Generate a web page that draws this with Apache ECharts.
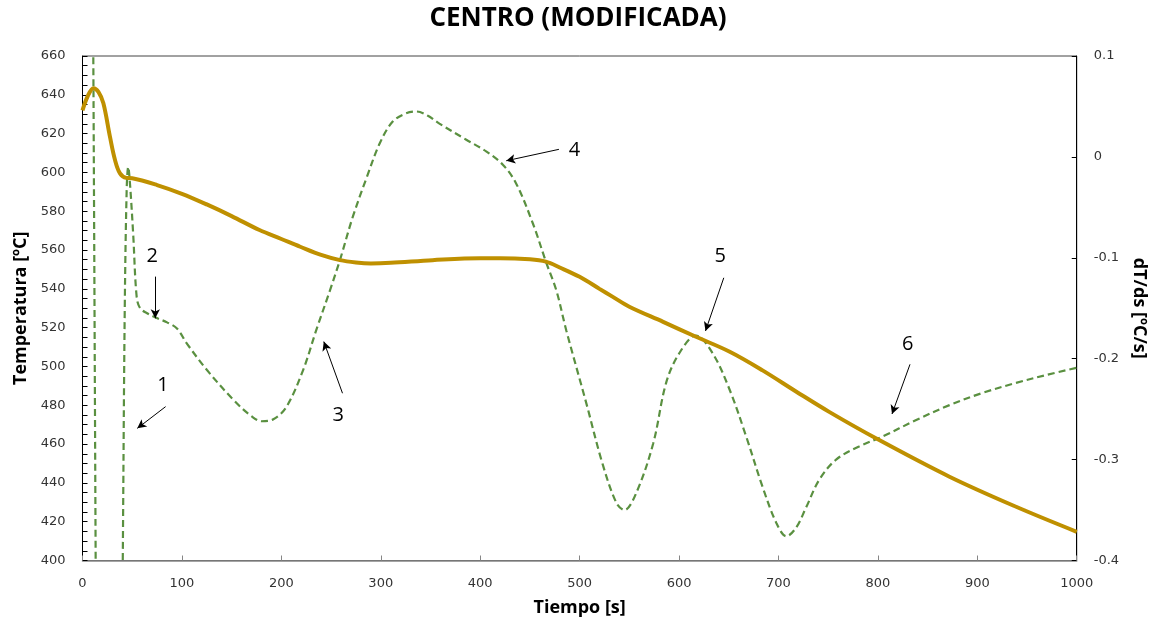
<!DOCTYPE html>
<html>
<head>
<meta charset="utf-8">
<script src="https://cdn.jsdelivr.net/npm/echarts@6/dist/echarts.min.js"></script>
<style>html,body{margin:0;padding:0;background:#fff}#c{width:1156px;height:630px}</style>
</head>
<body>
<div id="c"></div>
<script>
// Temperature (left axis) [t s, T °C]
const tempTime = [0, 5, 11, 16, 21, 27.6, 32.7, 37.7, 44, 50, 75, 100, 125, 150, 178, 200, 219, 240, 259, 275, 290, 310, 352, 400, 420, 450, 466, 480, 500, 520, 533, 550, 584, 617, 651, 684, 718, 751, 798, 872, 939, 1000];
const tempVals = [632, 639, 643.4, 641.5, 635.6, 618.4, 606.4, 599.5, 597.2, 597, 593.5, 589, 583.5, 577.5, 570.3, 565.7, 561.7, 557.5, 554.8, 553.6, 553.1, 553.4, 554.8, 555.8, 555.8, 555.2, 554, 551, 546.2, 540, 536, 530.8, 523, 515.3, 507.6, 498, 487, 476.6, 463, 443.2, 427.7, 414.8];

// Derivative dT/ds (right axis) [t s, °C/s]
const derivTime = [0, 5, 10, 14, 20, 30, 38, 40.5, 42.5, 44.5, 46, 48, 51, 54.5, 58, 65, 73, 85, 95, 105, 125, 152, 170, 180, 192, 205, 222, 235, 249, 259, 272, 286, 299, 312, 325, 336, 347, 359, 386, 406, 423, 436, 453, 466.5, 476.5, 486.6, 506.7, 523, 537, 545, 557, 574, 587, 600, 617, 634, 651, 667.5, 684, 698, 708, 718, 728, 741, 758, 781, 805, 838, 872, 905, 939, 970, 1000];
const derivVals = [1.2, 0.9, 0.25, -0.55, -1.6, -1.4, -0.7, -0.4, -0.15, -0.03, -0.01, -0.03, -0.077, -0.139, -0.150, -0.155, -0.159, -0.164, -0.170, -0.185, -0.211, -0.241, -0.257, -0.262, -0.260, -0.248, -0.211, -0.172, -0.132, -0.102, -0.059, -0.020, 0.0135, 0.035, 0.043, 0.045, 0.041, 0.033, 0.017, 0.0055, -0.008, -0.026, -0.066, -0.105, -0.132, -0.172, -0.244, -0.304, -0.343, -0.350, -0.333, -0.284, -0.224, -0.195, -0.177, -0.195, -0.231, -0.277, -0.327, -0.363, -0.376, -0.367, -0.347, -0.320, -0.300, -0.287, -0.277, -0.261, -0.246, -0.234, -0.224, -0.216, -0.209];

// Annotations (data coordinates on time / temperature axes)
const annoText = ['1', '2', '3', '4', '5', '6'];
const annoLabelAt = [[81, 490.4], [70.2, 556.6], [257.1, 475], [494.9, 611.6], [641.4, 556.6], [829.9, 511.6]];
const arrowFrom = [[83.6, 479.3], [73.2, 546.3], [261.5, 486.2], [479.2, 611.9], [645, 545.7], [832.3, 501.1]];
const arrowTo = [[55.1, 468.1], [73.2, 524.8], [242.7, 512.8], [426.2, 606], [626.6, 518.3], [814.2, 475.5]];

const FONT = 'DejaVu Sans';
const tempData = tempTime.map((t, i) => [t, tempVals[i]]);
const derivData = derivTime.map((t, i) => [t, derivVals[i]]);

const chart = echarts.init(document.getElementById('c'));
chart.setOption({
  animation: false,
  backgroundColor: '#fff',
  title: {
    text: 'CENTRO (MODIFICADA)', left: 'center', top: 1,
    textStyle: { fontFamily: 'Open Sans', fontWeight: 'bold', fontSize: 26, color: '#000' }
  },
  grid: { left: 82.5, right: 78.5, top: 56, bottom: 69.5, show: true, borderColor: '#444', borderWidth: 1 },
  xAxis: {
    type: 'value', min: 0, max: 1000, interval: 100,
    name: 'Tiempo [s]', nameLocation: 'middle', nameGap: 38,
    nameTextStyle: { fontFamily: 'Open Sans', fontWeight: 'bold', fontSize: 18, color: '#000' },
    axisLine: { show: true, onZero: false, lineStyle: { color: '#868686', width: 1.5 } },
    axisTick: { show: true, inside: true, length: 5, lineStyle: { color: '#868686' } },
    axisLabel: { fontFamily: FONT, fontSize: 13, color: '#333', margin: 17, formatter: v => String(v) },
    splitLine: { show: false }
  },
  yAxis: [{
    type: 'value', min: 400, max: 660, interval: 20, position: 'left',
    name: 'Temperatura [ºC]', nameLocation: 'middle', nameGap: 50,
    nameTextStyle: { fontFamily: 'Open Sans', fontWeight: 'bold', fontSize: 18, color: '#000' },
    axisLine: { show: true, onZero: false, lineStyle: { color: '#000', width: 1 } },
    axisTick: { show: true, inside: true, length: 5, lineStyle: { color: '#000' } },
    minorTick: { show: true, splitNumber: 4, length: 5, lineStyle: { color: '#000' } },
    axisLabel: { fontFamily: FONT, fontSize: 13, color: '#333', margin: 17 },
    splitLine: { show: false }
  }, {
    type: 'value', min: -0.4, max: 0.1, interval: 0.1, position: 'right',
    name: 'dT/ds [ºC/s]', nameLocation: 'middle', nameGap: 52, nameRotate: -90,
    nameTextStyle: { fontFamily: 'Open Sans', fontWeight: 'bold', fontSize: 18, color: '#000' },
    axisLine: { show: true, onZero: false, lineStyle: { color: '#000', width: 1 } },
    axisTick: { show: true, inside: true, length: 5, lineStyle: { color: '#000' } },
    axisLabel: { fontFamily: FONT, fontSize: 13, color: '#333', margin: 17,
      formatter: v => String(+v.toFixed(1)) },
    splitLine: { show: false }
  }],
  series: [{
    name: 'dT/ds', type: 'line', yAxisIndex: 1, data: derivData,
    showSymbol: false, smooth: 0.35, clip: true,
    lineStyle: { color: '#5A9040', width: 2.2, type: [7, 4] }
  }, {
    name: 'Temperatura', type: 'line', yAxisIndex: 0, data: tempData,
    showSymbol: false, smooth: 0.35, clip: true,
    lineStyle: { color: '#BF9000', width: 4 },
    markLine: {
      silent: true, symbol: ['none', 'arrow'], symbolSize: [7, 9],
      label: { show: false },
      lineStyle: { color: '#000', width: 1, type: 'solid' },
      data: arrowFrom.map((p, i) => [{ coord: p }, { coord: arrowTo[i] }])
    },
    markPoint: {
      silent: true, symbol: 'circle', symbolSize: 0,
      label: { show: true, position: 'inside', fontFamily: 'Open Sans', fontSize: 20, color: '#000',
        formatter: p => p.name },
      data: annoLabelAt.map((p, i) => ({ name: annoText[i], coord: p }))
    }
  }]
});
</script>
</body>
</html>
